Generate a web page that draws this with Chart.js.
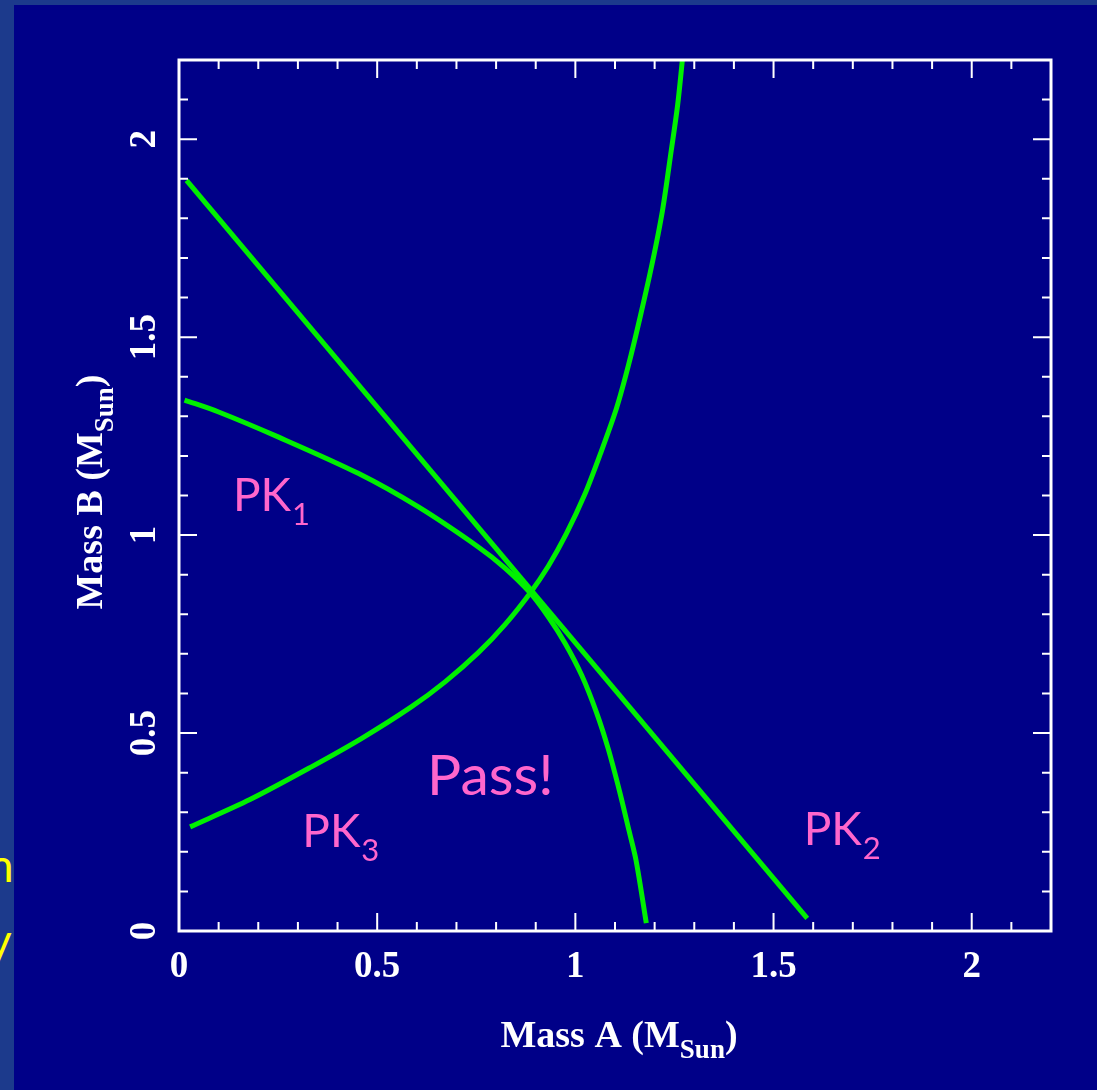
<!DOCTYPE html>
<html lang="en">
<head>
<meta charset="UTF-8" />
<title>Mass A vs Mass B</title>
<script src="https://cdn.jsdelivr.net/npm/chart.js"></script>
<style>
  html, body { margin: 0; padding: 0; }
  body { width: 1097px; height: 1090px; background: #1c3a8c; position: relative; overflow: hidden; }
  #panel { position: absolute; left: 14px; top: 5px; width: 1083px; height: 1085px; background: #000088; }
  .edge { position: absolute; left: 0; width: 14px; height: 70px; overflow: hidden; }
  .edge span { position: absolute; left: -12px; top: 0; font: 46px Lato, sans-serif; line-height: 46px; color: #ffff00; }
</style>
</head>
<body>

<!-- slide text peeking out on the left -->
<div class="edge" style="top:842px"><span>n</span></div>
<div class="edge" style="top:917px"><span>y</span></div>

<div id="panel">
  <canvas id="massChart" width="1083" height="1085"></canvas>
</div>

<script>
  // curves (M_sun)
  const pk1X = [0.014, 0.100, 0.250, 0.452, 0.604, 0.755, 0.821, 0.886, 0.932, 0.974, 1.016, 1.053, 1.083, 1.112, 1.135, 1.153, 1.179];
  const pk1Y = [1.341, 1.311, 1.248, 1.156, 1.071, 0.970, 0.918, 0.854, 0.793, 0.727, 0.646, 0.553, 0.460, 0.351, 0.255, 0.179, 0.020];

  const pk2X = [0.019, 1.585];
  const pk2Y = [1.896, 0.032];

  const pk3X = [0.028, 0.179, 0.333, 0.460, 0.586, 0.672, 0.755, 0.824, 0.886, 0.932, 0.977, 1.023, 1.063, 1.104, 1.134, 1.164, 1.194, 1.220, 1.242, 1.258, 1.270];
  const pk3Y = [0.263, 0.332, 0.414, 0.486, 0.566, 0.630, 0.703, 0.776, 0.854, 0.922, 1.003, 1.101, 1.205, 1.321, 1.429, 1.553, 1.687, 1.821, 1.972, 2.086, 2.200];

  const tickValues = [0, 0.5, 1, 1.5, 2];
  const tickLabels = ['0', '0.5', '1', '1.5', '2'];
  const minorValues = [0.1, 0.2, 0.3, 0.4, 0.6, 0.7, 0.8, 0.9, 1.1, 1.2, 1.3, 1.4, 1.6, 1.7, 1.8, 1.9, 2.1];

  const xTitle = ['Mass A (M', 'Sun', ')'];
  const yTitle = ['Mass B (M', 'Sun', ')'];

  // label text, subscript, anchor in data units
  const noteText = ['PK', 'PK', 'PK', 'Pass!'];
  const noteSub = ['1', '2', '3', ''];
  const noteX = [0.136, 1.576, 0.311, 0.626];
  const noteY = [1.061, 0.217, 0.212, 0.343];

  const GREEN = '#00f000';
  const PINK = '#ff66cc';

  function pts(xs, ys) {
    return xs.map((x, i) => ({ x: x, y: ys[i] }));
  }

  // draws the whole title with a lowered subscript, centred on (0,0)
  function drawSubTitle(ctx, parts, big, small, drop) {
    ctx.font = 'bold ' + big + 'px "Liberation Serif", serif';
    const w0 = ctx.measureText(parts[0]).width;
    const w2 = ctx.measureText(parts[2]).width;
    ctx.font = 'bold ' + small + 'px "Liberation Serif", serif';
    const w1 = ctx.measureText(parts[1]).width;
    let x = -(w0 + w1 + w2) / 2;
    ctx.textAlign = 'left';
    ctx.textBaseline = 'alphabetic';
    ctx.font = 'bold ' + big + 'px "Liberation Serif", serif';
    ctx.fillText(parts[0], x, 0);
    x += w0;
    ctx.font = 'bold ' + small + 'px "Liberation Serif", serif';
    ctx.fillText(parts[1], x, drop);
    x += w1;
    ctx.font = 'bold ' + big + 'px "Liberation Serif", serif';
    ctx.fillText(parts[2], x, 0);
  }

  const frameAxes = {
    id: 'frameAxes',
    afterDraw(chart) {
      const { ctx, chartArea: a } = chart;
      const sx = chart.scales.x, sy = chart.scales.y;
      ctx.save();

      // box
      ctx.strokeStyle = '#ffffff';
      ctx.lineWidth = 3;
      ctx.strokeRect(a.left, a.top, a.right - a.left, a.bottom - a.top);

      // inward ticks on all four sides
      ctx.lineWidth = 2;
      ctx.beginPath();
      const tick = (v, len) => {
        const px = sx.getPixelForValue(v), py = sy.getPixelForValue(v);
        ctx.moveTo(px, a.bottom); ctx.lineTo(px, a.bottom - len);
        ctx.moveTo(px, a.top); ctx.lineTo(px, a.top + len);
        ctx.moveTo(a.left, py); ctx.lineTo(a.left + len, py);
        ctx.moveTo(a.right, py); ctx.lineTo(a.right - len, py);
      };
      tickValues.forEach(v => tick(v, 18));
      minorValues.forEach(v => tick(v, 9));
      ctx.stroke();

      // tick labels
      ctx.fillStyle = '#ffffff';
      ctx.font = 'bold 37px "Liberation Serif", serif';
      ctx.textAlign = 'center';
      ctx.textBaseline = 'alphabetic';
      tickValues.forEach((v, i) => {
        ctx.fillText(tickLabels[i], sx.getPixelForValue(v), a.bottom + 46);
      });
      tickValues.forEach((v, i) => {
        ctx.save();
        ctx.translate(a.left - 24, sy.getPixelForValue(v));
        ctx.rotate(-Math.PI / 2);
        ctx.fillText(tickLabels[i], 0, 0);
        ctx.restore();
      });

      // axis titles
      ctx.save();
      ctx.translate((a.left + a.right) / 2 + 4, a.bottom + 116);
      drawSubTitle(ctx, xTitle, 38, 27, 11);
      ctx.restore();

      ctx.save();
      ctx.translate(a.left - 77, a.top + 432);
      ctx.rotate(-Math.PI / 2);
      drawSubTitle(ctx, yTitle, 38, 27, 11);
      ctx.restore();

      // pink annotations
      ctx.fillStyle = PINK;
      ctx.textAlign = 'left';
      noteText.forEach((t, i) => {
        const px = sx.getPixelForValue(noteX[i]);
        const py = sy.getPixelForValue(noteY[i]);
        const size = noteSub[i] ? 46 : 57;
        ctx.font = size + 'px Lato, "Open Sans", sans-serif';
        ctx.fillText(t, px, py);
        if (noteSub[i]) {
          const w = ctx.measureText(t).width;
          ctx.font = '31px Lato, "Open Sans", sans-serif';
          ctx.fillText(noteSub[i], px + w + 1, py + 14);
        }
      });

      ctx.restore();
    }
  };

  const ctx = document.getElementById('massChart').getContext('2d');
  new Chart(ctx, {
    type: 'scatter',
    data: {
      datasets: [
        { label: 'PK1', data: pts(pk1X, pk1Y), tension: 0.3 },
        { label: 'PK2', data: pts(pk2X, pk2Y), tension: 0 },
        { label: 'PK3', data: pts(pk3X, pk3Y), tension: 0.3 }
      ].map(d => Object.assign(d, {
        showLine: true,
        borderColor: GREEN,
        backgroundColor: GREEN,
        borderWidth: 5,
        pointRadius: 0,
        fill: false
      }))
    },
    options: {
      responsive: false,
      animation: false,
      devicePixelRatio: 1,
      layout: { padding: { left: 165, top: 55, right: 46, bottom: 159 } },
      scales: {
        x: { type: 'linear', min: 0, max: 2.2, display: false },
        y: { type: 'linear', min: 0, max: 2.2, display: false }
      },
      plugins: {
        legend: { display: false },
        tooltip: { enabled: false }
      }
    },
    plugins: [frameAxes]
  });
</script>

</body>
</html>
